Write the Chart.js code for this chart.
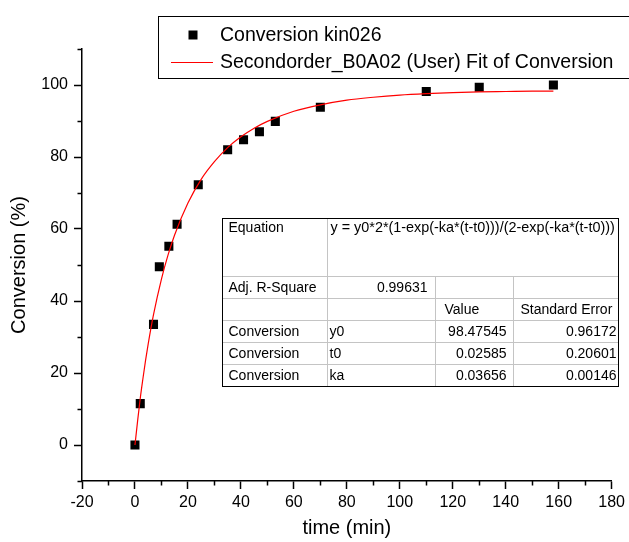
<!DOCTYPE html>
<html>
<head>
<meta charset="utf-8">
<script src="https://cdn.jsdelivr.net/npm/chart.js@4/dist/chart.umd.min.js"></script>
<style>
  html, body { margin: 0; padding: 0; background: #fff; }
  #wrap { width: 629px; height: 542px; position: relative; }
</style>
</head>
<body>
<div id="wrap"><canvas id="c" width="629" height="542"></canvas></div>
<script>
// Measured conversion of kin026 over time
const timeMin = [0, 2, 7, 9.2, 12.8, 15.9, 23.9, 35, 41, 47, 53, 70, 110, 130, 158];
const conversion = [0, 11.5, 33.5, 49.5, 55.2, 61.3, 72.3, 82.0, 84.8, 87.0, 89.9, 93.8, 98.2, 99.4, 100.0];

// Second-order fit curve, sampled along the time axis
const fitTime = [0, 1, 2, 3, 4, 5, 7, 10, 12.5, 15, 20, 25, 30, 35, 40, 45, 50, 60, 70, 80, 90, 100, 110, 120, 130, 140, 150, 158];
const fitConv = [0, 6.7, 13.0, 18.4, 23.5, 28.1, 36.2, 46.1, 52.8, 58.4, 67.2, 73.8, 78.7, 82.6, 85.6, 88.0, 89.9, 92.7, 94.5, 95.8, 96.6, 97.2, 97.6, 97.9, 98.1, 98.2, 98.3, 98.3];

// Axis ranges and labelled ticks
const xRange = [-20, 180];
const yRange = [-10, 110];
const xLabels = [-20, 0, 20, 40, 60, 80, 100, 120, 140, 160, 180];
const yLabels = [0, 20, 40, 60, 80, 100];

// Legend entries
const seriesNames = ['Conversion kin026', 'Secondorder_B0A02 (User) Fit of Conversion'];

// Fit report
const equationText = 'y = y0*2*(1-exp(-ka*(t-t0)))/(2-exp(-ka*(t-t0)))';
const adjRSquare = '0.99631';
const paramModel = ['Conversion', 'Conversion', 'Conversion'];
const paramNames = ['y0', 't0', 'ka'];
const paramValues = ['98.47545', '0.02585', '0.03656'];
const paramErrors = ['0.96172', '0.20601', '0.00146'];

const FONT = '"Liberation Sans", Arial, Helvetica, sans-serif';

const pts = (xs, ys) => xs.map((x, i) => ({ x: x, y: ys[i] }));

// Short minor ticks between the labelled ones
const minorTicks = {
  id: 'minorTicks',
  afterDraw(chart) {
    const ctx = chart.ctx;
    const xs = chart.scales.x, ys = chart.scales.y;
    ctx.save();
    ctx.strokeStyle = '#000';
    ctx.lineWidth = 1.5;
    ctx.beginPath();
    for (let v = xRange[0]; v <= xRange[1]; v += 10) {
      if (xLabels.includes(v)) continue;
      const px = Math.round(xs.getPixelForValue(v)) + 0.5;
      ctx.moveTo(px, ys.bottom);
      ctx.lineTo(px, ys.bottom + 4.5);
    }
    for (let v = yRange[0]; v <= yRange[1]; v += 10) {
      if (yLabels.includes(v)) continue;
      const py = Math.round(ys.getPixelForValue(v)) + 0.5;
      ctx.moveTo(xs.left, py);
      ctx.lineTo(xs.left - 4.5, py);
    }
    ctx.stroke();
    ctx.restore();
  }
};

// Boxed legend at the top
const boxLegend = {
  id: 'boxLegend',
  afterDraw(chart) {
    const ctx = chart.ctx;
    ctx.save();
    ctx.fillStyle = '#fff';
    ctx.fillRect(158.5, 16.5, 480, 62);
    ctx.strokeStyle = '#000';
    ctx.lineWidth = 1;
    ctx.strokeRect(158.5, 16.5, 480, 62);
    ctx.fillStyle = '#000';
    ctx.fillRect(188.5, 30.5, 9, 9);
    ctx.strokeStyle = '#ff0000';
    ctx.lineWidth = 1.2;
    ctx.beginPath();
    ctx.moveTo(171, 62.5);
    ctx.lineTo(213, 62.5);
    ctx.stroke();
    ctx.fillStyle = '#000';
    ctx.font = '19.5px ' + FONT;
    ctx.textBaseline = 'middle';
    ctx.textAlign = 'left';
    ctx.fillText(seriesNames[0], 220, 35.5);
    ctx.fillText(seriesNames[1], 220, 62.5);
    ctx.restore();
  }
};

// Fit parameter table inside the plot
const fitTable = {
  id: 'fitTable',
  afterDraw(chart) {
    const ctx = chart.ctx;
    const cx = [222.5, 327.5, 435.5, 513.5, 618.5];
    const ry = [218.5, 276.5, 298.5, 320.5, 342.5, 364.5, 386.5];
    ctx.save();
    ctx.fillStyle = '#fff';
    ctx.fillRect(cx[0], ry[0], cx[4] - cx[0], ry[6] - ry[0]);
    // inner rules
    ctx.strokeStyle = '#c4c4c4';
    ctx.lineWidth = 1;
    ctx.beginPath();
    for (let i = 1; i < 6; i++) { ctx.moveTo(cx[0], ry[i]); ctx.lineTo(cx[4], ry[i]); }
    ctx.moveTo(cx[1], ry[0]); ctx.lineTo(cx[1], ry[6]);
    ctx.moveTo(cx[2], ry[1]); ctx.lineTo(cx[2], ry[6]);
    ctx.moveTo(cx[3], ry[1]); ctx.lineTo(cx[3], ry[6]);
    ctx.stroke();
    // outer frame
    ctx.strokeStyle = '#000';
    ctx.strokeRect(cx[0], ry[0], cx[4] - cx[0], ry[6] - ry[0]);
    // text
    ctx.fillStyle = '#000';
    ctx.font = '14px ' + FONT;
    ctx.textBaseline = 'middle';
    const mid = r => (ry[r] + ry[r + 1]) / 2 + 0.5;
    ctx.textAlign = 'left';
    ctx.fillText('Equation', 228.5, ry[0] + 9.5);
    ctx.save();
    ctx.font = '14.4px ' + FONT;
    ctx.fillText(equationText, 330.5, ry[0] + 9.5);
    ctx.restore();
    ctx.fillText('Adj. R-Square', 228.5, mid(1));
    ctx.fillText('Value', 444.5, mid(2));
    ctx.fillText('Standard Error', 520.5, mid(2));
    for (let i = 0; i < 3; i++) {
      ctx.textAlign = 'left';
      ctx.fillText(paramModel[i], 228.5, mid(3 + i));
      ctx.fillText(paramNames[i], 329.5, mid(3 + i));
      ctx.textAlign = 'right';
      ctx.fillText(paramValues[i], 506.5, mid(3 + i));
      ctx.fillText(paramErrors[i], 616.5, mid(3 + i));
    }
    ctx.textAlign = 'right';
    ctx.fillText(adjRSquare, 427.5, mid(1));
    ctx.restore();
  }
};

const tickColor = labels => c => (labels.includes(c.tick.value) ? '#000' : 'rgba(0,0,0,0)');

new Chart(document.getElementById('c'), {
  data: {
    datasets: [
      {
        type: 'line',
        label: seriesNames[1],
        data: pts(fitTime, fitConv),
        borderColor: '#ff0000',
        borderWidth: 1.2,
        pointRadius: 0,
        fill: false,
        cubicInterpolationMode: 'monotone',
        order: 0
      },
      {
        type: 'scatter',
        label: seriesNames[0],
        data: pts(timeMin, conversion),
        pointStyle: 'rect',
        pointRadius: 6.4,
        pointBorderWidth: 0,
        borderWidth: 0,
        backgroundColor: '#000',
        order: 1
      }
    ]
  },
  options: {
    responsive: false,
    animation: false,
    devicePixelRatio: 1,
    layout: { padding: { top: 49, right: 17, left: 0, bottom: 0 } },
    plugins: { legend: { display: false }, tooltip: { enabled: false } },
    scales: {
      x: {
        type: 'linear',
        min: xRange[0], max: xRange[1],
        afterFit(s) { s.height = 61; },
        border: { display: true, color: '#000', width: 1.5 },
        grid: {
          drawOnChartArea: false, drawTicks: true, tickLength: 8,
          tickWidth: 1.5, tickColor: tickColor(xLabels)
        },
        ticks: {
          stepSize: 10, autoSkip: false, maxRotation: 0, padding: 4,
          color: '#000', font: { family: FONT, size: 16 },
          callback: v => (xLabels.includes(v) ? String(v) : '')
        },
        title: {
          display: true, text: 'time (min)', color: '#000',
          font: { family: FONT, size: 20 }, padding: { top: 0, bottom: 2 }
        }
      },
      y: {
        type: 'linear',
        min: yRange[0], max: yRange[1],
        afterFit(s) { s.width = 82; },
        border: { display: true, color: '#000', width: 1.5 },
        grid: {
          drawOnChartArea: false, drawTicks: true, tickLength: 8,
          tickWidth: 1.5, tickColor: tickColor(yLabels)
        },
        ticks: {
          stepSize: 10, autoSkip: false, padding: 6,
          color: '#000', font: { family: FONT, size: 16 },
          callback: v => (yLabels.includes(v) ? String(v) : '')
        },
        title: {
          display: true, text: 'Conversion (%)', color: '#000',
          font: { family: FONT, size: 20 }, padding: { top: 7, bottom: 0 }
        }
      }
    }
  },
  plugins: [minorTicks, fitTable, boxLegend]
});
</script>
</body>
</html>
